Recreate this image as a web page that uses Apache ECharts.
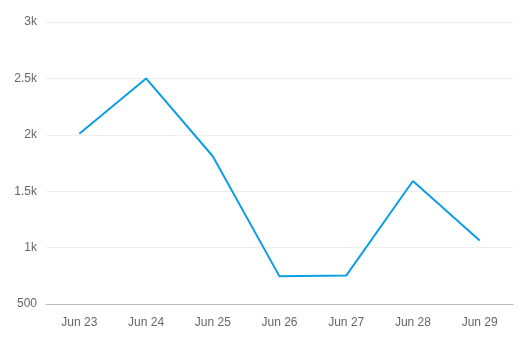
<!DOCTYPE html>
<html><head><meta charset="utf-8">
<script src="https://cdn.jsdelivr.net/npm/echarts@6/dist/echarts.min.js"></script>
<style>html,body{margin:0;padding:0;background:#fff}#c{width:523px;height:347px}</style>
</head><body><div id="c"></div>
<script>
const categories = ["Jun 23","Jun 24","Jun 25","Jun 26","Jun 27","Jun 28","Jun 29"];
const values = [2010, 2500, 1810, 745, 752, 1590, 1062];
const yTicks = [500, 1000, 1500, 2000, 2500, 3000];
const chart = echarts.init(document.getElementById('c'));
chart.setOption({
  animation: false,
  grid: {left: 46, right: 10, top: 22, bottom: 43},
  xAxis: {
    type: 'category', data: categories, boundaryGap: true,
    axisLine: {lineStyle: {color: '#bbb'}},
    axisTick: {alignWithLabel: true, lineStyle: {color: '#bbb'}},
    axisLabel: {color: '#666', fontSize: 12, margin: 13, fontFamily: 'Liberation Sans, Arial, sans-serif'}
  },
  yAxis: {
    type: 'value', min: yTicks[0], max: yTicks[yTicks.length-1], interval: 500,
    axisLine: {show: false}, axisTick: {show: false},
    splitLine: {lineStyle: {color: '#eee'}},
    axisLabel: {color: '#666', fontSize: 12, margin: 9, fontFamily: 'Liberation Sans, Arial, sans-serif',
      formatter: v => v >= 1000 ? (v/1000) + 'k' : String(v)}
  },
  series: [{
    type: 'line', data: values, symbol: 'none',
    lineStyle: {color: '#0d9de5', width: 2}
  }]
});
</script></body></html>
